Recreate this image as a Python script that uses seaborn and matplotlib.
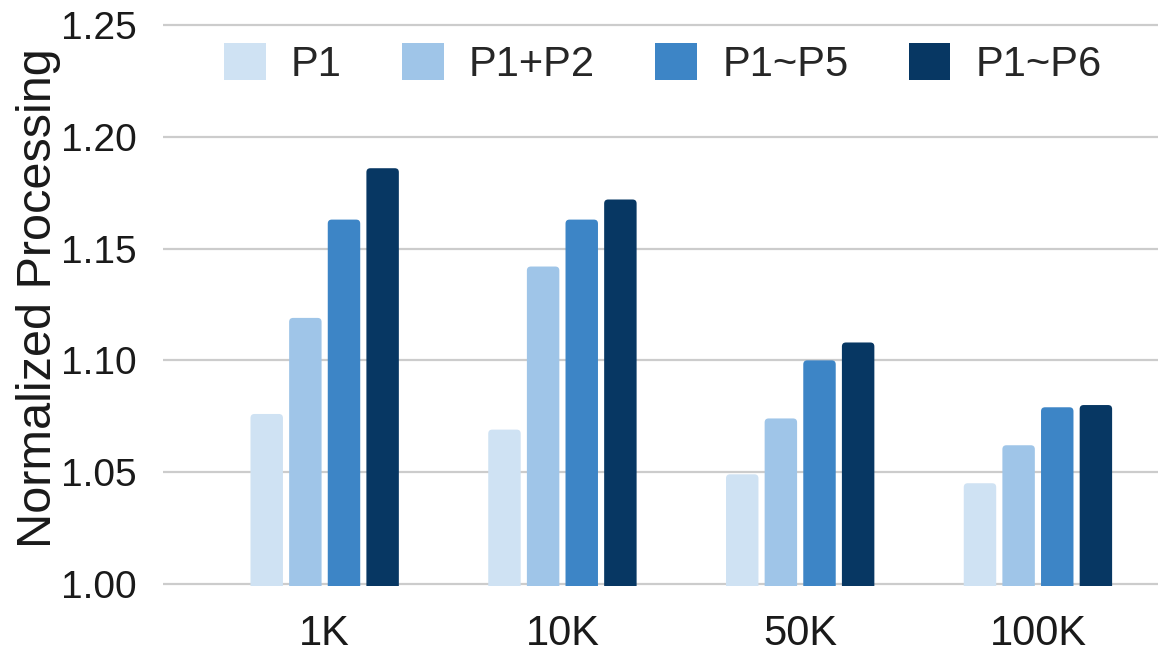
import matplotlib
matplotlib.use("Agg")
import matplotlib.pyplot as plt
from matplotlib.patches import FancyBboxPatch
import seaborn as sns
import pandas as pd

# Dataset sizes and pipeline variants
sizes = ["1K", "10K", "50K", "100K"]
variants = ["P1", "P1+P2", "P1~P5", "P1~P6"]

# Normalized processing per variant, one value per dataset size
p1 = [1.076, 1.069, 1.049, 1.045]
p1_p2 = [1.119, 1.142, 1.074, 1.062]
p1_p5 = [1.163, 1.163, 1.100, 1.079]
p1_p6 = [1.186, 1.172, 1.108, 1.080]

y_ticks = [1.00, 1.05, 1.10, 1.15, 1.20, 1.25]
palette = ["#cfe2f3", "#9fc5e8", "#3d85c6", "#073763"]

rows = []
for name, vals in zip(variants, [p1, p1_p2, p1_p5, p1_p6]):
    for s, v in zip(sizes, vals):
        rows.append({"size": s, "variant": name, "value": v})
df = pd.DataFrame(rows)

sns.set_theme(style="white")
plt.rcParams["font.family"] = ["Liberation Sans", "DejaVu Sans"]

W, H = 1162, 656
fig = plt.figure(figsize=(W / 100, H / 100), dpi=100)
ax_left, ax_right, ax_top, ax_bottom = 163, 1158, 23, 586
ax = fig.add_axes([ax_left / W, (H - ax_bottom) / H,
                   (ax_right - ax_left) / W, (ax_bottom - ax_top) / H])

sns.barplot(
    data=df, x="size", y="value", hue="variant",
    order=sizes, hue_order=variants, palette=palette,
    width=0.65, gap=0.16, saturation=1, linewidth=0, ax=ax,
)

ylim = (0.999, 1.251)
xlim = (-0.68, 3.505)
ax.set_ylim(*ylim)
ax.set_xlim(*xlim)

# Round the top corners of every bar (about 4 px radius)
px_x = (xlim[1] - xlim[0]) / (ax_right - ax_left)
px_y = (ylim[1] - ylim[0]) / (ax_bottom - ax_top)
radius = 4 * px_x
for bar in list(ax.patches):
    x, y = bar.get_x(), bar.get_y()
    w, h = bar.get_width(), bar.get_height()
    if w == 0 or h == 0:
        continue
    rounded = FancyBboxPatch(
        (x, y), w, h,
        boxstyle=f"round,pad=0,rounding_size={radius}",
        mutation_aspect=px_y / px_x,
        facecolor=bar.get_facecolor(), edgecolor="none", linewidth=0,
        zorder=bar.get_zorder(),
    )
    bar.set_visible(False)
    ax.add_patch(rounded)

ax.set_yticks(y_ticks)
ax.set_yticklabels([f"{t:.2f}" for t in y_ticks])
ax.yaxis.grid(True, color="#cccccc", linewidth=1.6)
ax.xaxis.grid(False)
ax.set_axisbelow(True)
for sp in ax.spines.values():
    sp.set_visible(False)

ax.tick_params(axis="y", length=0, pad=19, labelsize=28, labelcolor="#1a1a1a")
ax.tick_params(axis="x", length=0, pad=20, labelsize=30, labelcolor="#1a1a1a")
ax.set_xlabel("")
ax.set_ylabel("Normalized Processing", fontsize=35, color="#1a1a1a")
ax.yaxis.set_label_coords(-0.1025, 0.512)

handles, labels = ax.get_legend_handles_labels()
ax.legend(
    handles, labels, loc="center", ncol=4, frameon=False,
    bbox_to_anchor=(663 / W, 1 - 64 / H), bbox_transform=fig.transFigure,
    fontsize=30, handlelength=1.0, handleheight=1.0,
    handletextpad=0.6, columnspacing=1.45,
)

fig.savefig("out.png", dpi=100, facecolor="white")
